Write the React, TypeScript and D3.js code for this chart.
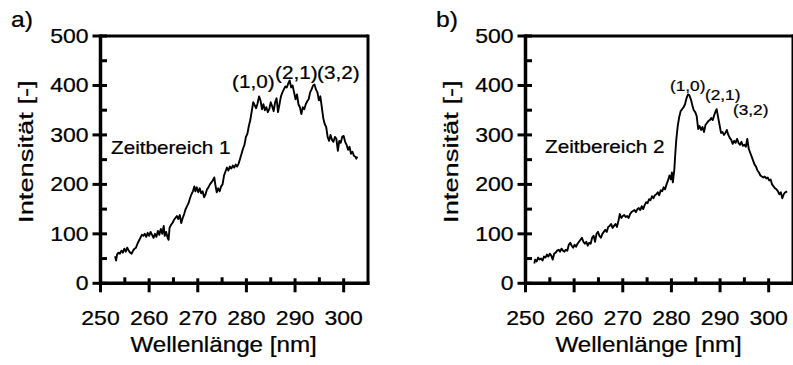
import React from "react";
import * as d3 from "d3";

// ---------- data ----------
const xMajorTicks = [250, 260, 270, 280, 290, 300];
const xMinorTicks = [255, 265, 275, 285, 295];
const yMajorTicks = [0, 100, 200, 300, 400, 500];
const yMinorTicks = [50, 150, 250, 350, 450];

const panelLetters = ["a)", "b)"];
const rangeLabels = ["Zeitbereich 1", "Zeitbereich 2"];
const peakLabels = ["(1,0)", "(2,1)", "(3,2)"];
const xTitle = "Wellenlänge [nm]";
const yTitle = "Intensität [-]";

// Zeitbereich 1: [wavelength nm, intensity]
const series1: [number, number][] = [
  [253.0, 55], [253.2, 46], [253.4, 58], [253.7, 62], [254.0, 60], [254.3, 66], [254.6, 62], [254.9, 70],
  [255.2, 64], [255.5, 72], [255.8, 66], [256.1, 62], [256.4, 60], [256.7, 66], [257.0, 70], [257.3, 72],
  [257.6, 80], [257.9, 86], [258.2, 92], [258.5, 98], [258.8, 96], [259.1, 100], [259.4, 94], [259.7, 102],
  [260.0, 96], [260.3, 104], [260.6, 98], [260.9, 92], [261.2, 100], [261.5, 94], [261.8, 106], [262.1, 98],
  [262.4, 110], [262.7, 100], [263.0, 116], [263.2, 96], [263.5, 104], [263.8, 92], [264.0, 88], [264.2, 112],
  [264.5, 118], [264.8, 122], [265.1, 128], [265.4, 132], [265.7, 136], [266.0, 130], [266.3, 138], [266.6, 122],
  [266.9, 132], [267.2, 140], [267.5, 150], [267.8, 156], [268.1, 162], [268.4, 172], [268.7, 180], [269.0, 186],
  [269.3, 196], [269.5, 186], [269.8, 194], [270.1, 184], [270.4, 192], [270.7, 182], [271.0, 186], [271.3, 174],
  [271.6, 180], [271.9, 190], [272.2, 194], [272.5, 200], [272.8, 204], [273.1, 208], [273.4, 214], [273.6, 200],
  [273.9, 184], [274.2, 192], [274.5, 186], [274.8, 196], [275.1, 200], [275.4, 218], [275.7, 226], [276.0, 234],
  [276.3, 228], [276.6, 236], [276.9, 232], [277.2, 238], [277.5, 234], [277.8, 240], [278.1, 236], [278.4, 242],
  [278.7, 252], [279.0, 262], [279.3, 272], [279.6, 280], [279.9, 296], [280.2, 302], [280.5, 318], [280.8, 330],
  [281.1, 348], [281.4, 366], [281.7, 360], [282.0, 354], [282.3, 364], [282.6, 378], [282.9, 370], [283.2, 352],
  [283.5, 362], [283.8, 350], [284.1, 356], [284.4, 346], [284.7, 352], [285.0, 366], [285.3, 358], [285.6, 348],
  [285.9, 366], [286.2, 374], [286.5, 346], [286.8, 362], [287.1, 378], [287.4, 386], [287.7, 392], [288.0, 398],
  [288.3, 396], [288.6, 404], [288.9, 410], [289.2, 396], [289.5, 400], [289.8, 386], [290.1, 372], [290.4, 382],
  [290.7, 362], [291.0, 356], [291.3, 342], [291.6, 356], [291.9, 352], [292.2, 362], [292.5, 368], [292.8, 372],
  [293.1, 386], [293.4, 392], [293.7, 400], [294.0, 402], [294.3, 392], [294.6, 386], [294.9, 370], [295.2, 378],
  [295.5, 356], [295.8, 334], [296.1, 322], [296.4, 316], [296.7, 296], [297.0, 288], [297.3, 300], [297.6, 290],
  [297.9, 286], [298.2, 296], [298.5, 292], [298.8, 268], [299.1, 288], [299.4, 284], [299.7, 296], [300.0, 298],
  [300.3, 286], [300.6, 280], [300.9, 270], [301.2, 276], [301.5, 262], [301.8, 266], [302.1, 258], [302.4, 256],
  [302.6, 252], [302.8, 256],
];

// Zeitbereich 2
const series2: [number, number][] = [
  [251.8, 40], [252.0, 48], [252.3, 44], [252.6, 52], [252.9, 48], [253.2, 50], [253.5, 46], [253.8, 54],
  [254.1, 52], [254.4, 58], [254.7, 54], [255.0, 60], [255.3, 56], [255.6, 48], [255.9, 60], [256.2, 62],
  [256.5, 66], [256.8, 68], [257.1, 64], [257.4, 70], [257.7, 66], [258.0, 64], [258.3, 68], [258.6, 66],
  [258.9, 78], [259.2, 82], [259.5, 76], [259.8, 72], [260.1, 78], [260.4, 74], [260.7, 80], [261.0, 84],
  [261.3, 88], [261.6, 92], [261.9, 84], [262.2, 80], [262.5, 84], [262.8, 76], [263.1, 82], [263.4, 80],
  [263.7, 92], [264.0, 96], [264.3, 84], [264.6, 100], [264.9, 104], [265.2, 96], [265.5, 92], [265.8, 100],
  [266.1, 104], [266.4, 108], [266.7, 104], [267.0, 114], [267.3, 116], [267.6, 120], [267.9, 112], [268.2, 116],
  [268.5, 120], [268.8, 114], [269.1, 126], [269.4, 140], [269.7, 132], [270.0, 136], [270.3, 138], [270.6, 134],
  [270.9, 136], [271.2, 132], [271.5, 140], [271.8, 144], [272.1, 146], [272.4, 148], [272.7, 144], [273.0, 150],
  [273.3, 152], [273.6, 148], [273.9, 156], [274.2, 150], [274.5, 158], [274.8, 164], [275.1, 162], [275.4, 170],
  [275.7, 168], [276.0, 176], [276.3, 172], [276.6, 178], [276.9, 180], [277.2, 184], [277.5, 178], [277.8, 188],
  [278.1, 186], [278.4, 194], [278.7, 190], [279.0, 200], [279.3, 208], [279.6, 218], [279.9, 210], [280.1, 224],
  [280.3, 204], [280.6, 230], [280.8, 262], [281.0, 290], [281.3, 318], [281.6, 336], [281.9, 348], [282.2, 352],
  [282.5, 356], [282.8, 362], [283.1, 374], [283.4, 382], [283.7, 380], [284.0, 372], [284.3, 360], [284.6, 350],
  [284.9, 346], [285.2, 338], [285.5, 312], [285.8, 318], [286.1, 310], [286.4, 316], [286.7, 306], [287.0, 320],
  [287.3, 324], [287.6, 328], [287.9, 330], [288.2, 334], [288.5, 330], [288.8, 340], [289.1, 348], [289.3, 352],
  [289.6, 336], [289.9, 320], [290.2, 304], [290.5, 306], [290.8, 300], [291.1, 304], [291.4, 310], [291.7, 300],
  [292.0, 294], [292.3, 290], [292.6, 282], [292.9, 288], [293.2, 284], [293.5, 292], [293.8, 284], [294.1, 280],
  [294.4, 286], [294.7, 278], [295.0, 280], [295.3, 276], [295.6, 292], [295.9, 272], [296.2, 264], [296.5, 256],
  [296.8, 248], [297.1, 240], [297.4, 236], [297.7, 228], [298.0, 224], [298.3, 218], [298.6, 216], [298.9, 214],
  [299.2, 216], [299.5, 212], [299.8, 214], [300.1, 208], [300.4, 210], [300.7, 200], [301.0, 196], [301.3, 192],
  [301.6, 190], [301.9, 186], [302.2, 180], [302.5, 184], [302.8, 172], [303.1, 180], [303.4, 184], [303.8, 186],
];

const xDomain: [number, number] = [250, 305];
const yDomain: [number, number] = [0, 500];

const FONT = "'Liberation Sans', Arial, Helvetica, sans-serif";

type TProps = {
  x: number; y: number; size: number; sx?: number; anchor?: string; rotate?: number; children: React.ReactNode;
};
function T({ x, y, size, sx = 1, anchor = "start", rotate = 0, children }: TProps) {
  return (
    <text
      transform={`translate(${x},${y}) rotate(${rotate}) scale(${sx},1)`}
      fontFamily={FONT}
      fontSize={size}
      textAnchor={anchor}
      fill="#000"
      stroke="#000"
      strokeWidth={0.25}
    >
      {children}
    </text>
  );
}

type PanelProps = {
  left: number;
  letter: string;
  letterX: number;
  data: [number, number][];
  rangeLabel: string;
  rangeX: number;
  rangeY: number;
  peaks: { x: number; y: number }[];
  peakSize: number;
};

function Panel({ left, letter, letterX, data, rangeLabel, rangeX, rangeY, peaks, peakSize }: PanelProps) {
  const top = 36;
  const bottom = 283.3;
  const width = 267.5;
  const x = d3.scaleLinear().domain(xDomain).range([left, left + width]);
  const y = d3.scaleLinear().domain(yDomain).range([bottom, top]);
  const line = d3
    .line<[number, number]>()
    .x((d) => x(d[0]))
    .y((d) => y(d[1]));
  const right = left + width;
  const sx = 1.15;
  return (
    <g>
      <T x={letterX} y={27} size={22} sx={1.12}>{letter}</T>
      {/* frame */}
      <line x1={left} x2={right} y1={top} y2={top} stroke="#000" strokeWidth={3} />
      <line x1={right} x2={right} y1={top - 1.5} y2={bottom + 1.5} stroke="#000" strokeWidth={3} />
      <line x1={left} x2={right + 1.5} y1={bottom} y2={bottom} stroke="#000" strokeWidth={3.5} />
      <line x1={left} x2={left} y1={top - 1.5} y2={bottom + 1.7} stroke="#000" strokeWidth={3.5} />
      {/* x ticks */}
      {xMajorTicks.map((t) => (
        <line key={"xM" + t} x1={x(t)} x2={x(t)} y1={bottom - 5} y2={bottom + 9} stroke="#000" strokeWidth={3} />
      ))}
      {xMinorTicks.map((t) => (
        <line key={"xm" + t} x1={x(t)} x2={x(t)} y1={bottom - 6} y2={bottom} stroke="#000" strokeWidth={3} />
      ))}
      {/* y ticks */}
      {yMajorTicks.map((t) => (
        <line key={"yM" + t} x1={left - 8} x2={left + 6.5} y1={y(t)} y2={y(t)} stroke="#000" strokeWidth={3} />
      ))}
      {yMinorTicks.map((t) => (
        <line key={"ym" + t} x1={left} x2={left + 6.5} y1={y(t)} y2={y(t)} stroke="#000" strokeWidth={3} />
      ))}
      {/* tick labels */}
      {xMajorTicks.map((t) => (
        <T key={"xl" + t} x={x(t)} y={325} size={20} sx={sx} anchor="middle">{t}</T>
      ))}
      {yMajorTicks.map((t) => (
        <T key={"yl" + t} x={left - 12} y={y(t) + 7} size={20} sx={sx} anchor="end">{t}</T>
      ))}
      {/* titles */}
      <T x={(x(250) + x(300)) / 2 + 1.5} y={352} size={22} sx={1.1} anchor="middle">{xTitle}</T>
      <T x={left - 68} y={(top + bottom) / 2 - 8} size={21} sx={1.3} anchor="middle" rotate={-90}>{yTitle}</T>
      {/* curve */}
      <path d={line(data) || ""} fill="none" stroke="#000" strokeWidth={1.9} strokeLinejoin="round" />
      {/* annotations */}
      <T x={rangeX} y={rangeY} size={18} sx={1.15}>{rangeLabel}</T>
      {peakLabels.map((p, i) => (
        <T key={p} x={peaks[i].x} y={peaks[i].y} size={peakSize} sx={1.15}>{p}</T>
      ))}
    </g>
  );
}

export default function App() {
  return (
    <svg
      width={793}
      height={365}
      style={{ position: "absolute", left: 0, top: 0, background: "#fff" }}
    >
      <rect x={0} y={0} width={793} height={365} fill="#fff" />
      <Panel
        left={100.5}
        letter={panelLetters[0]}
        letterX={11}
        data={series1}
        rangeLabel={rangeLabels[0]}
        rangeX={111}
        rangeY={154}
        peaks={[{ x: 232, y: 88 }, { x: 275, y: 79 }, { x: 317, y: 79 }]}
        peakSize={18}
      />
      <Panel
        left={525.5}
        letter={panelLetters[1]}
        letterX={436}
        data={series2}
        rangeLabel={rangeLabels[1]}
        rangeX={545}
        rangeY={153}
        peaks={[{ x: 670, y: 91 }, { x: 705, y: 100 }, { x: 733, y: 115 }]}
        peakSize={15}
      />
    </svg>
  );
}
